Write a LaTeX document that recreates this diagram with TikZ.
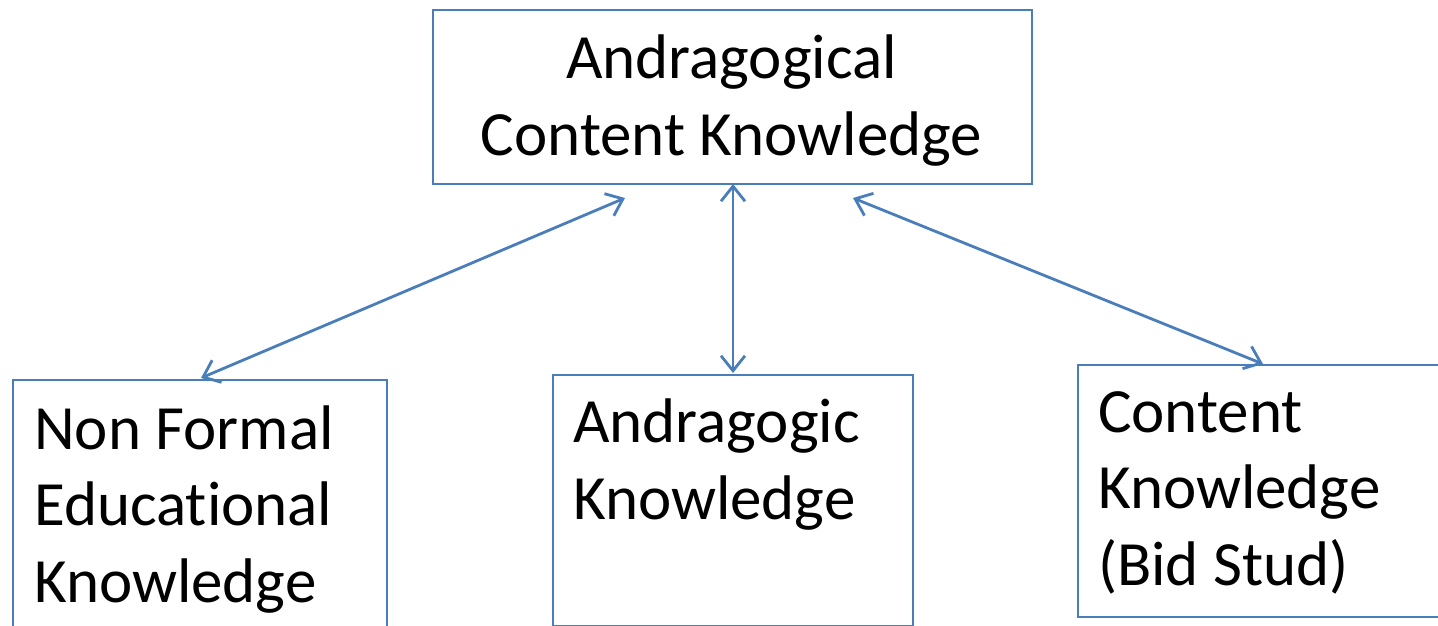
\documentclass[tikz,border=0pt]{standalone}
\usepackage{fontspec}
\setmainfont{Carlito}[Ligatures=NoCommon]
\usetikzlibrary{arrows.meta}
\definecolor{boxblue}{HTML}{4A7EBB}
\tikzset{
  box/.style={draw=boxblue, line width=2.2pt, inner sep=0pt, anchor=north west},
  label/.style={inner sep=0pt, anchor=base west, align=left, font=\fontsize{63}{76.5}\selectfont},
  link/.style={draw=boxblue, line width=2.8pt, {Straight Barb[length=15pt,width=24pt,line width=2.8pt]}-{Straight Barb[length=15pt,width=24pt,line width=2.8pt]}}
}
\begin{document}
\begin{tikzpicture}[x=1pt,y=-1pt]
\useasboundingbox (0,0) rectangle (1438,626);
% boxes
\node[box, minimum width=599pt, minimum height=174pt] (top) at (432,9) {};
\node[box, minimum width=374pt, minimum height=260pt] (left) at (12,379) {};
\node[box, minimum width=360pt, minimum height=251pt] (mid) at (552,374) {};
\node[box, minimum width=380pt, minimum height=252pt] (right) at (1077,364) {};
% texts (base anchor = baseline of last line)
\node[inner sep=0pt, anchor=base, align=center, font=\fontsize{63}{76.5}\selectfont] (toptext) at (731.5,155) {Andragogical\\Content Knowledge};
\node[label] (lefttext) at (34,602) {Non Formal\\Educational\\Knowledge};
\node[label] (midtext) at (573,519) {Andragogic\\Knowledge};
\node[label] (righttext) at (1098,585) {Content\\Knowledge\\(Bid Stud)};
% arrow ends
\coordinate (a1) at (625,198);
\coordinate (b1) at (201,378);
\coordinate (a2) at (733,184);
\coordinate (b2) at (733,373);
\coordinate (a3) at (853,198);
\coordinate (b3) at (1263,364);
\draw[link] (a1) -- (b1);
\draw[link] (a2) -- (b2);
\draw[link] (a3) -- (b3);
\end{tikzpicture}
\end{document}
